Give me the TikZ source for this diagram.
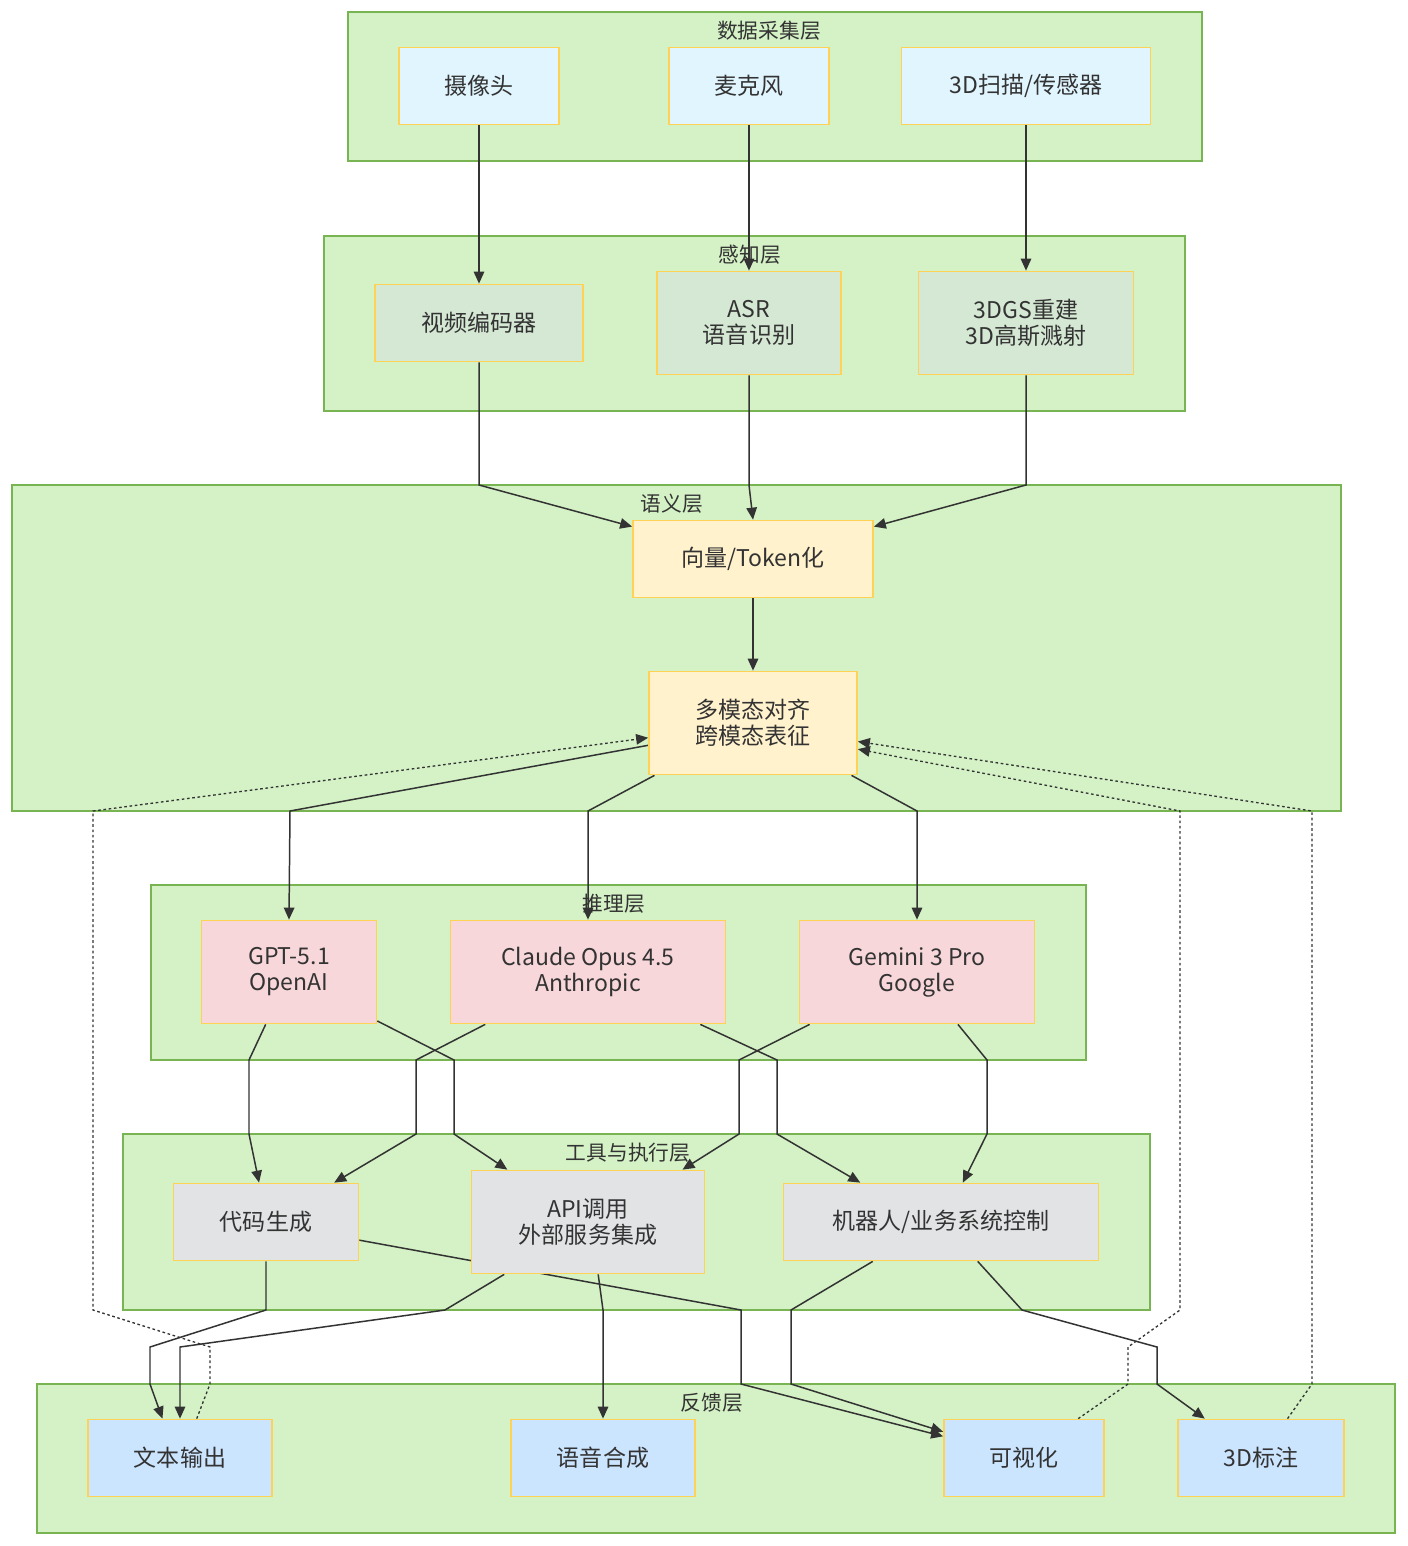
\documentclass[tikz,border=0pt]{standalone}
\usepackage{fontspec}
\setmainfont{Noto Sans CJK SC}
\usetikzlibrary{arrows.meta}
\usetikzlibrary{positioning}
\definecolor{layerfill}{RGB}{212,242,197}
\definecolor{layerdraw}{RGB}{120,180,82}
\definecolor{boxdraw}{RGB}{255,210,85}
\definecolor{inputfill}{RGB}{225,245,254}
\definecolor{percfill}{RGB}{213,232,212}
\definecolor{semfill}{RGB}{255,242,204}
\definecolor{reasonfill}{RGB}{248,215,218}
\definecolor{toolfill}{RGB}{226,227,229}
\definecolor{outfill}{RGB}{204,229,255}
\definecolor{inkgray}{RGB}{51,51,51}
\pgfdeclarelayer{back}
\pgfdeclarelayer{links}
\pgfsetlayers{back,links,main}
\tikzset{layer/.style={draw=layerdraw,fill=layerfill,line width=1pt}}
\tikzset{layerlabel/.style={text=inkgray,font=\fontsize{11.8}{14}\selectfont,inner sep=0pt}}
\tikzset{box/.style={rectangle,draw=boxdraw,line width=1pt,text=inkgray,align=center,font=\fontsize{13.1}{14.8}\selectfont,inner sep=0pt}}
\tikzset{low/.style={box,minimum height=1.54cm}}
\tikzset{high/.style={box,minimum height=2.06cm}}
\tikzset{link/.style={draw=inkgray,line width=0.85pt,-{Triangle[length=0.24cm,width=0.21cm]}}}
\tikzset{backlink/.style={link,line width=0.75pt,dash pattern=on 1.5pt off 1.5pt}}
\begin{document}
\begin{tikzpicture}[x=0.02cm,y=-0.02cm]
  \useasboundingbox (0,0) rectangle (1408,1546);

  % Nodes
  \node[low,fill=inputfill,minimum width=3.2cm] (cam) at (479,86) {摄像头};
  \node[low,fill=inputfill,minimum width=3.2cm] (mic) at (749,86) {麦克风};
  \node[low,fill=inputfill,minimum width=4.98cm] (scan) at (1026,86) {3D扫描/传感器};

  \node[low,fill=percfill,minimum width=4.16cm] (venc) at (479,323) {视频编码器};
  \node[high,fill=percfill,minimum width=3.68cm] (asr) at (749,323) {ASR\\语音识别};
  \node[high,fill=percfill,minimum width=4.3cm] (gs) at (1026,323) {3DGS重建\\3D高斯溅射};

  \node[low,fill=semfill,minimum width=4.8cm] (tok) at (753,559) {向量/Token化};
  \node[high,fill=semfill,minimum width=4.16cm] (mm) at (753,723) {多模态对齐\\跨模态表征};

  \node[high,fill=reasonfill,minimum width=3.5cm] (gpt) at (289,972) {GPT-5.1\\OpenAI};
  \node[high,fill=reasonfill,minimum width=5.5cm] (claude) at (588,972) {Claude Opus 4.5\\Anthropic};
  \node[high,fill=reasonfill,minimum width=4.7cm] (gem) at (917,972) {Gemini 3 Pro\\Google};

  \node[low,fill=toolfill,minimum width=3.7cm] (code) at (266,1222) {代码生成};
  \node[high,fill=toolfill,minimum width=4.66cm] (api) at (588,1222) {API调用\\外部服务集成};
  \node[low,fill=toolfill,minimum width=6.3cm] (robot) at (941,1222) {机器人/业务系统控制};

  \node[low,fill=outfill,minimum width=3.68cm] (txt) at (180,1458) {文本输出};
  \node[low,fill=outfill,minimum width=3.68cm] (voice) at (603,1458) {语音合成};
  \node[low,fill=outfill,minimum width=3.2cm] (vis) at (1024,1458) {可视化};
  \node[low,fill=outfill,minimum width=3.32cm] (ann) at (1261,1458) {3D标注};

  % Layers
  \begin{pgfonlayer}{back}
    \draw[layer] (348,12) rectangle (1202,161);
    \node[layerlabel] (l1) at (769,31) {数据采集层};
    \draw[layer] (324,236) rectangle (1185,411);
    \node[layerlabel] (l2) at (750,255) {感知层};
    \draw[layer] (12,485) rectangle (1341,811);
    \node[layerlabel] (l3) at (672,504) {语义层};
    \draw[layer] (151,885) rectangle (1086,1060);
    \node[layerlabel] (l4) at (614,904) {推理层};
    \draw[layer] (123,1134) rectangle (1150,1310);
    \node[layerlabel] (l5) at (628,1153) {工具与执行层};
    \draw[layer] (37,1384) rectangle (1395,1533);
    \node[layerlabel] (l6) at (712,1403) {反馈层};
  \end{pgfonlayer}

  % Links
  \begin{pgfonlayer}{links}
    \draw[link] (cam) -- (venc);
    \draw[link] (mic) -- (asr);
    \draw[link] (scan) -- (gs);

    \draw[link] (venc.south) -- (479,485) -- (tok.165);
    \draw[link] (asr.south) -- (749,485) -- (tok.north);
    \draw[link] (gs.south) -- (1026,485) -- (tok.15);
    \draw[link] (tok) -- (mm);

    \draw[link] (mm.192) -- (290,811) -- (gpt.north);
    \draw[link] (mm.208) -- (588,811) -- (claude.north);
    \draw[link] (mm.332) -- (917,811) -- (gem.north);

    \draw[link] (gpt.246) -- (249,1060) -- (249,1134) -- (code.100);
    \draw[link] (gpt.331) -- (454,1060) -- (454,1134) -- (api.147);
    \draw[link] (claude.207) -- (416,1060) -- (416,1134) -- (code.30);
    \draw[link] (claude.335) -- (777,1060) -- (777,1134) -- (robot.154);
    \draw[link] (gem.206) -- (739,1060) -- (739,1134) -- (api.29);
    \draw[link] (gem.308) -- (987,1060) -- (987,1134) -- (robot.61);

    \draw[link] (code.south) -- (266,1310) -- (150,1347) -- (150,1384) -- (txt.114);
    \draw[link] (code.349) -- (741,1310) -- (741,1384) -- (vis.165);
    \draw[link] (api.212) -- (445,1310) -- (180,1347) -- (txt.north);
    \draw[link] (api.281) -- (603,1310) -- (voice.north);
    \draw[link] (robot.210) -- (791,1310) -- (791,1384) -- (vis.162);
    \draw[link] (robot.313) -- (1022,1310) -- (1157,1347) -- (1157,1384) -- (ann.145);

    % Feedback
    \draw[backlink] (txt.67) -- (210,1384) -- (210,1347) -- (93,1310) -- (93,811) -- (mm.188);
    \draw[backlink] (vis.36) -- (1128,1384) -- (1128,1347) -- (1180,1310) -- (1180,811) -- (mm.346);
    \draw[backlink] (ann.56) -- (1312,1384) -- (1312,811) -- (mm.350);
  \end{pgfonlayer}
\end{tikzpicture}
\end{document}
